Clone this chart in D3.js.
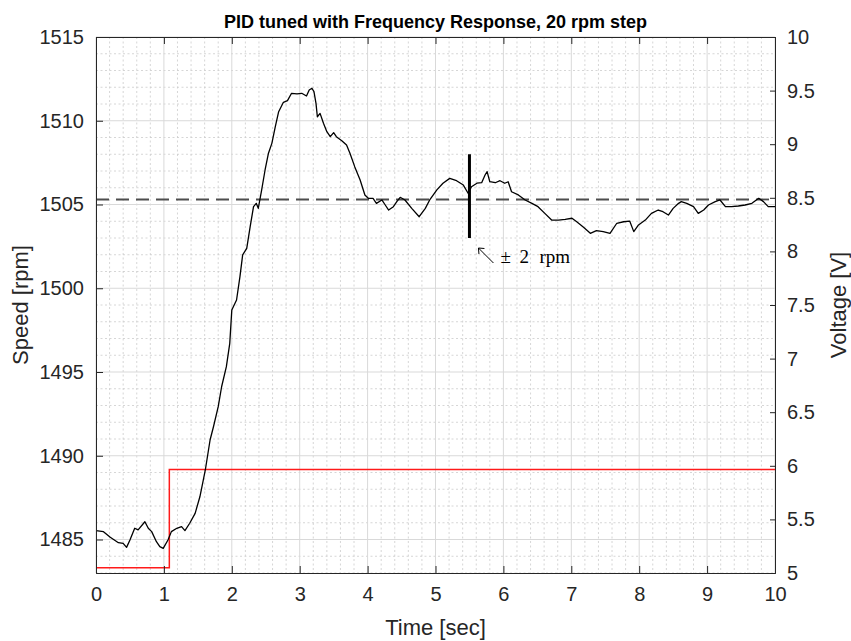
<!DOCTYPE html>
<html><head><meta charset="utf-8">
<script src="https://cdn.jsdelivr.net/npm/d3@7"></script>
<style>body{margin:0;background:#fff}svg{display:block}</style>
</head><body>
<script>
// ---- data ----
const speedTime = [0,0.11,0.21,0.33,0.40,0.45,0.50,0.57,0.62,0.72,0.77,0.82,0.89,0.94,0.99,1.06,1.11,1.19,1.26,1.31,1.38,1.46,1.53,1.58,1.61,1.68,1.73,1.80,1.85,1.92,1.97,2.00,2.07,2.12,2.16,2.22,2.27,2.32,2.36,2.39,2.44,2.49,2.54,2.59,2.64,2.69,2.76,2.82,2.88,2.96,3.03,3.10,3.14,3.18,3.21,3.24,3.26,3.30,3.35,3.40,3.45,3.50,3.54,3.62,3.69,3.74,3.81,3.89,3.96,4.01,4.08,4.13,4.21,4.26,4.31,4.38,4.43,4.48,4.55,4.65,4.76,4.85,4.92,5.02,5.11,5.21,5.31,5.41,5.48,5.53,5.61,5.68,5.73,5.76,5.80,5.88,5.95,6.02,6.07,6.12,6.22,6.32,6.42,6.51,6.61,6.71,6.81,6.91,7.01,7.08,7.18,7.28,7.37,7.47,7.57,7.67,7.77,7.86,7.92,7.99,8.09,8.18,8.28,8.35,8.43,8.50,8.58,8.62,8.70,8.80,8.87,8.95,9.02,9.12,9.19,9.27,9.36,9.46,9.56,9.66,9.76,9.83,9.90,10.0];
const speedRpm = [1485.53,1485.47,1485.13,1484.81,1484.77,1484.53,1484.97,1485.67,1485.57,1486.06,1485.67,1485.47,1484.87,1484.57,1484.47,1484.97,1485.47,1485.67,1485.77,1485.53,1485.97,1486.56,1487.55,1488.55,1489.15,1490.94,1491.73,1492.93,1494.12,1495.32,1496.71,1498.70,1499.30,1500.69,1501.99,1502.38,1503.67,1504.87,1505.07,1504.77,1505.87,1507.06,1508.06,1508.65,1509.64,1510.54,1511.10,1511.20,1511.64,1511.60,1511.64,1511.48,1511.84,1511.94,1511.74,1511.04,1510.24,1510.44,1509.85,1509.35,1509.05,1509.29,1509.05,1508.81,1508.55,1508.06,1507.26,1506.46,1505.57,1505.37,1505.37,1505.07,1505.27,1504.97,1504.67,1504.87,1505.17,1505.43,1505.27,1504.77,1504.27,1504.77,1505.31,1505.87,1506.27,1506.56,1506.42,1506.16,1505.67,1506.06,1506.27,1506.30,1506.76,1506.96,1506.36,1506.30,1506.42,1506.27,1506.36,1505.76,1505.57,1505.27,1505.07,1504.87,1504.47,1504.07,1504.07,1504.11,1504.18,1503.97,1503.64,1503.28,1503.44,1503.38,1503.28,1503.88,1503.97,1504.01,1503.38,1503.78,1504.07,1504.47,1504.67,1504.57,1504.37,1504.77,1505.07,1505.17,1505.07,1504.87,1504.47,1504.67,1504.97,1505.17,1505.27,1504.87,1504.87,1504.91,1504.97,1505.07,1505.37,1505.17,1504.87,1504.87];
const voltTime = [0,1.08,1.08,10];
const voltValue = [5.05,5.05,5.965,5.965];
const targetRpm = 1505.3;
const markTime = 5.5;
const markRange = [1503.0, 1508.0];
const xTicks = [0,1,2,3,4,5,6,7,8,9,10];
const leftTicks = [1485,1490,1495,1500,1505,1510,1515];
const rightTicks = [5,5.5,6,6.5,7,7.5,8,8.5,9,9.5,10];
const titleText = "PID tuned with Frequency Response, 20 rpm step";

// ---- layout ----
const W = 851, H = 641;
const L = 96, R = 775, T = 37, B = 573;
const axisCol = "#262626";
const sans = "'Liberation Sans', Arial, sans-serif";
const serif = "'Liberation Serif','DejaVu Serif',serif";
const svg = d3.select("body").append("svg").attr("width", W).attr("height", H)
  .style("font-family", sans);

const x = d3.scaleLinear().domain([0,10]).range([L,R]);
const yL = d3.scaleLinear().domain([1483,1515]).range([B,T]);
const yR = d3.scaleLinear().domain([5,10]).range([B,T]);

// minor grid
const minorX = d3.range(0,10.001,0.2).filter(v => Math.abs(v - Math.round(v)) > 1e-6);
const minorY = d3.range(1483,1515.001,1).filter(v => v % 5 !== 0);
const g = svg.append("g");
g.selectAll(".mx").data(minorX).join("line")
  .attr("x1", d => x(d)).attr("x2", d => x(d)).attr("y1", T).attr("y2", B)
  .attr("stroke", "#cccccc").attr("stroke-width", 0.8).attr("stroke-dasharray", "2,2.5");
g.selectAll(".my").data(minorY).join("line")
  .attr("y1", d => yL(d)).attr("y2", d => yL(d)).attr("x1", L).attr("x2", R)
  .attr("stroke", "#cccccc").attr("stroke-width", 0.8).attr("stroke-dasharray", "2,2.5");
// major grid
g.selectAll(".gx").data(xTicks).join("line")
  .attr("x1", d => x(d)).attr("x2", d => x(d)).attr("y1", T).attr("y2", B)
  .attr("stroke", "#d9d9d9").attr("stroke-width", 1);
g.selectAll(".gy").data(leftTicks).join("line")
  .attr("y1", d => yL(d)).attr("y2", d => yL(d)).attr("x1", L).attr("x2", R)
  .attr("stroke", "#d9d9d9").attr("stroke-width", 1);

// data lines
svg.append("clipPath").attr("id","c").append("rect")
  .attr("x", L).attr("y", T).attr("width", R-L).attr("height", B-T);
const plot = svg.append("g").attr("clip-path","url(#c)");

plot.append("line").attr("x1", x(0)).attr("x2", x(10))
  .attr("y1", yL(targetRpm)).attr("y2", yL(targetRpm))
  .attr("stroke", "#4d4d4d").attr("stroke-width", 1.8).attr("stroke-dasharray", "13,7");

const voltLine = d3.line().x((d,i) => x(voltTime[i])).y(d => yR(d));
plot.append("path").attr("d", voltLine(voltValue))
  .attr("fill","none").attr("stroke","#ff1a1a").attr("stroke-width",1.5);

const speedLine = d3.line().x((d,i) => x(speedTime[i])).y(d => yL(d));
plot.append("path").attr("d", speedLine(speedRpm))
  .attr("fill","none").attr("stroke","#000").attr("stroke-width",1.3).attr("stroke-linejoin","round");

plot.append("line").attr("x1", x(markTime)).attr("x2", x(markTime))
  .attr("y1", yL(markRange[0])).attr("y2", yL(markRange[1]))
  .attr("stroke","#000").attr("stroke-width",3);

// annotation: arrow + text
const ax0 = x(markTime) + 9, ay0 = yL(markRange[0]) + 10;
svg.append("line").attr("x1", ax0).attr("y1", ay0).attr("x2", ax0 + 15).attr("y2", ay0 + 15)
  .attr("stroke","#000").attr("stroke-width",1);
svg.append("path").attr("d", `M${ax0+6},${ay0+0.5} L${ax0},${ay0} L${ax0+0.5},${ay0+6}`)
  .attr("fill","none").attr("stroke","#000").attr("stroke-width",1);
const ann = svg.append("text").attr("y", ay0 + 15).style("font-family", serif)
  .attr("font-size",19).attr("fill","#000");
ann.append("tspan").attr("x", ax0 + 22).text("\u00B1");
ann.append("tspan").attr("x", ax0 + 41).text("2");
ann.append("tspan").attr("x", ax0 + 61).text("rpm");

// axes
const ax = svg.append("g");
const xAxisB = d3.axisBottom(x).tickValues(xTicks).tickSize(-7).tickPadding(14).tickFormat(d3.format("d"));
const xAxisT = d3.axisTop(x).tickValues(xTicks).tickSize(-7).tickFormat("");
const yAxisL = d3.axisLeft(yL).tickValues(leftTicks).tickSize(-7).tickPadding(12).tickFormat(d3.format("d"));
const yAxisR = d3.axisRight(yR).tickValues(rightTicks).tickSize(-5).tickPadding(12).tickFormat(d => d3.format("")(d));

function style(sel){
  sel.selectAll("path.domain").attr("stroke", axisCol).attr("stroke-width", 1);
  sel.selectAll(".tick line").attr("stroke", axisCol);
  sel.selectAll(".tick text").attr("fill", axisCol).attr("font-size", 20)
    .style("font-family", sans);
}
ax.append("g").attr("transform",`translate(0,${B})`).call(xAxisB).call(style);
ax.append("g").attr("transform",`translate(0,${T})`).call(xAxisT).call(style);
ax.append("g").attr("transform",`translate(${L},0)`).call(yAxisL).call(style);
ax.append("g").attr("transform",`translate(${R},0)`).call(yAxisR).call(style);

// titles
svg.append("text").attr("x", (L+R)/2).attr("y", 28).attr("text-anchor","middle")
  .attr("font-size",18).attr("font-weight","bold").attr("fill","#000").text(titleText);
svg.append("text").attr("x", (L+R)/2).attr("y", 635).attr("text-anchor","middle")
  .attr("font-size",22).attr("fill",axisCol).text("Time [sec]");
svg.append("text").attr("transform",`translate(28,${(T+B)/2}) rotate(-90)`).attr("text-anchor","middle")
  .attr("font-size",22).attr("fill",axisCol).text("Speed [rpm]");
svg.append("text").attr("transform",`translate(846,${(T+B)/2}) rotate(-90)`).attr("text-anchor","middle")
  .attr("font-size",22).attr("fill",axisCol).text("Voltage [V]");
</script>
</body></html>
